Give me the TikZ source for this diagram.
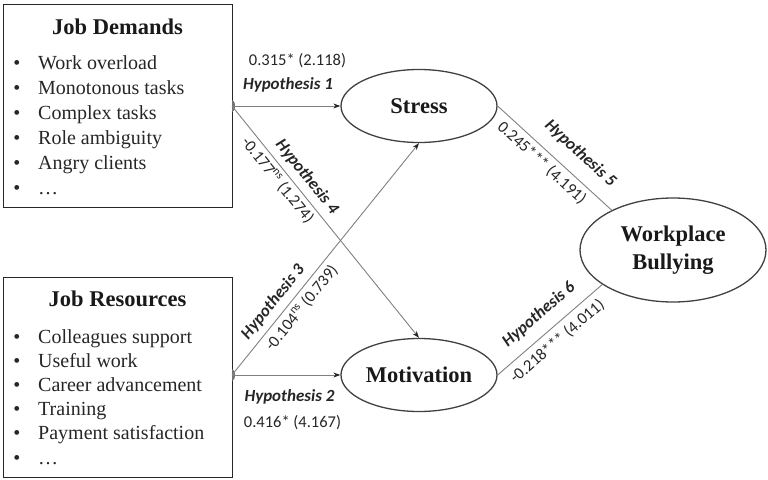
\documentclass[tikz,border=0pt]{standalone}
\usepackage{fontspec}
\setmainfont{Liberation Serif}
\newfontfamily\calibfont{Carlito}
\usetikzlibrary{shapes.geometric,arrows.meta}
\begin{document}
\begin{tikzpicture}[x=1pt,y=-1pt,
  box/.style={draw=black!85, line width=1.4pt, anchor=north west, minimum width=229pt, minimum height=203pt, inner sep=0pt},
  ell/.style={ellipse, draw=black!75, line width=1.3pt, inner sep=0pt, font=\fontsize{22.5}{28}\selectfont\bfseries, text=black!90},
  ttl/.style={anchor=base, font=\fontsize{22.5}{27}\selectfont\bfseries, inner sep=0pt, text=black!90},
  itm/.style={anchor=base west, font=\fontsize{20}{24}\selectfont, inner sep=0pt, text=black!85},
  bul/.style={anchor=base, font=\fontsize{20}{24}\selectfont, inner sep=0pt, text=black!85},
  conn/.style={draw=black!50, line width=0.9pt},
  arr/.style={conn, -{Stealth[length=7pt,width=5pt,color=black!85]}},
  hyp/.style={font=\calibfont\fontsize{17}{20}\selectfont\bfseries\itshape, text=black!85, inner sep=2pt},
  num/.style={font=\calibfont\fontsize{16.5}{20}\selectfont, text=black!85, inner sep=2pt},
  originmark/.style={fill=black!55},
]
\useasboundingbox (0,0) rectangle (768,479);

% boxes
\node[box] (jd) at (3,4) {};
\node[box, minimum height=200pt] (jr) at (3,277) {};
\node[ttl] (jdt) at (117.5,34) {Job Demands};
\node[ttl] (jrt) at (117.5,306) {Job Resources};
\foreach \t [count=\i] in {Work overload, Monotonous tasks, Complex tasks, Role ambiguity, Angry clients, …}{
  \node[bul] (jdb\i) at (17,{44+25*\i}) {•};
  \node[itm] (jdi\i) at (38,{44+25*\i}) {\t};
}
\foreach \t [count=\i] in {Colleagues support, Useful work, Career advancement, Training, Payment satisfaction, …}{
  \node[bul] (jrb\i) at (17,{318.8+24.2*\i}) {•};
  \node[itm] (jri\i) at (38,{318.8+24.2*\i}) {\t};
}

% ellipses
\node[ell, minimum width=156pt, minimum height=73pt] (st) at (419,106) {Stress};
\node[ell, minimum width=156pt, minimum height=73pt] (mo) at (419,375) {Motivation};
\node[ell, minimum width=186pt, minimum height=104pt, align=center] (wb) at (673,250) {Workplace\\Bullying};

% origins
\coordinate (jdo) at (232,106);
\coordinate (jro) at (232,375);
\fill[originmark] (jdo) ++(0,-6) arc[start angle=-90, end angle=90, x radius=3, y radius=6] -- cycle;
\fill[originmark] (jro) ++(0,-6) arc[start angle=-90, end angle=90, x radius=3, y radius=6] -- cycle;

% connectors
\draw[arr] (jdo) -- (st.west);
\draw[arr] (jro) -- (mo.west);
\draw[arr] (jdo) -- (mo.north)
  node[hyp, pos=0.343, sloped, anchor=south, inner ysep=6pt] (h4) {Hypothesis 4}
  node[num, pos=0.29, sloped, anchor=north, inner ysep=3.5pt] (n4) {-0.177\textsuperscript{ns} (1.274)};
\draw[arr] (jro) -- (st.south)
  node[hyp, pos=0.277, sloped, anchor=south, inner ysep=6pt] (h3) {Hypothesis 3}
  node[num, pos=0.322, sloped, anchor=north, inner ysep=4.5pt] (n3) {-0.104\textsuperscript{ns} (0.739)};
\draw[conn] (st.east) -- (wb.147)
  node[hyp, pos=0.602, sloped, anchor=south, inner ysep=13pt] (h5) {Hypothesis 5}
  node[num, pos=0.46, sloped, anchor=north, inner ysep=4.5pt] (n5) {0.245*** (4.191)};
\draw[conn] (mo.east) -- (wb.206)
  node[hyp, pos=0.512, sloped, anchor=south, inner ysep=11pt] (h6) {Hypothesis 6}
  node[num, pos=0.485, sloped, anchor=north, inner ysep=6pt] (n6) {-0.218*** (4.011)};

% horizontal labels
\node[num] (n1) at (297.5,61) {0.315* (2.118)};
\node[hyp] (h1) at (288,85) {Hypothesis 1};
\node[hyp] (h2) at (289.5,397) {Hypothesis 2};
\node[num] (n2) at (292.5,423) {0.416* (4.167)};
\end{tikzpicture}
\end{document}
